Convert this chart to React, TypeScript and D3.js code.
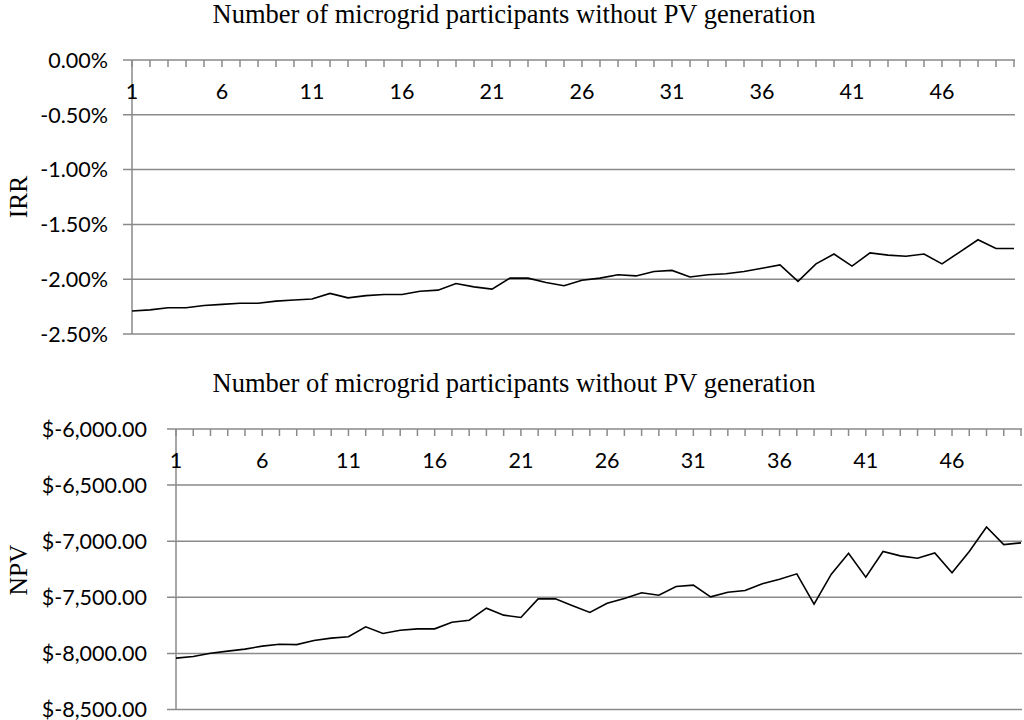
import React from 'react';
import * as d3 from 'd3';

// participants without PV: 1..50
const participants: number[] = d3.range(1, 51);

// IRR in percent
const irrValues: number[] = [
  -2.29, -2.28, -2.26, -2.26, -2.24, -2.23, -2.22, -2.22, -2.2, -2.19,
  -2.18, -2.13, -2.17, -2.15, -2.14, -2.14, -2.11, -2.1, -2.04, -2.07,
  -2.09, -1.99, -1.99, -2.03, -2.06, -2.01, -1.99, -1.96, -1.97, -1.93,
  -1.92, -1.98, -1.96, -1.95, -1.93, -1.9, -1.87, -2.02, -1.86, -1.77,
  -1.88, -1.76, -1.78, -1.79, -1.77, -1.86, -1.75, -1.64, -1.72, -1.72,
];

// NPV in dollars
const npvValues: number[] = [
  -8042, -8028, -7998, -7980, -7962, -7935, -7918, -7922, -7885, -7864,
  -7852, -7763, -7823, -7793, -7781, -7781, -7722, -7704, -7597, -7659,
  -7680, -7514, -7514, -7576, -7635, -7553, -7511, -7460, -7481, -7404,
  -7392, -7496, -7455, -7440, -7380, -7339, -7291, -7562, -7294, -7107,
  -7321, -7092, -7131, -7152, -7105, -7282, -7092, -6873, -7030, -7015,
];

const irrTicks: number[] = [0, -0.5, -1, -1.5, -2, -2.5];
const npvTicks: number[] = [-6000, -6500, -7000, -7500, -8000, -8500];
const labelledParticipants: number[] = [1, 6, 11, 16, 21, 26, 31, 36, 41, 46];

const chartTitle = 'Number of microgrid participants without PV generation';

const GRID = '#8a8a8a';
const SERIF = '"Liberation Serif", "Times New Roman", serif';
const SANS = 'Lato, "Open Sans", sans-serif';

type PanelProps = {
  values: number[];
  ticks: number[];
  domain: [number, number];
  left: number;
  right: number;
  top: number;
  bottom: number;
  titleY: number;
  yTitle: string;
  yTitleY: number;
  fmt: (v: number) => string;
  labelRight: number;
};

const Panel = (p: PanelProps) => {
  const x = d3.scaleLinear().domain([1, 50]).range([p.left, p.right]);
  const y = d3.scaleLinear().domain(p.domain).range([p.top, p.bottom]);
  const line = d3
    .line<number>()
    .x((_, i) => x(participants[i]))
    .y(d => y(d));

  return (
    <g>
      <text x={514} y={p.titleY} textAnchor="middle" fontFamily={SERIF} fontSize={26.5}>
        {chartTitle}
      </text>
      <text
        transform={`translate(27,${p.yTitleY}) rotate(-90)`}
        textAnchor="middle"
        fontFamily={SERIF}
        fontSize={25.5}
      >
        {p.yTitle}
      </text>
      {/* horizontal gridlines + y labels */}
      {p.ticks.map(t => (
        <g key={t}>
          <line x1={p.left - 9} x2={p.right + 1} y1={y(t)} y2={y(t)} stroke={GRID} strokeWidth={1.5} />
          <text
            x={p.labelRight}
            y={y(t)}
            dy="0.36em"
            textAnchor="end"
            fontFamily={SANS}
            fontSize={21.5}
          >
            {p.fmt(t)}
          </text>
        </g>
      ))}
      {/* y axis */}
      <line x1={p.left} x2={p.left} y1={p.top} y2={p.bottom} stroke={GRID} strokeWidth={1.5} />
      {/* category ticks along the top axis */}
      {participants.map(c => (
        <line key={c} x1={x(c)} x2={x(c)} y1={p.top} y2={p.top + 7} stroke={GRID} strokeWidth={1.5} />
      ))}
      {labelledParticipants.map(c => (
        <text key={c} x={x(c)} y={p.top + 39} textAnchor="middle" fontFamily={SANS} fontSize={21.5}>
          {c}
        </text>
      ))}
      <path d={line(p.values) ?? ''} fill="none" stroke="#000" strokeWidth={1.6} />
    </g>
  );
};

const money = (v: number) => '$' + d3.format(',.2f')(v).replace('−', '-');
const pct = (v: number) => d3.format('.2f')(v).replace('−', '-') + '%';

export default function App() {
  return (
    <svg
      width={1024}
      height={720}
      style={{ position: 'absolute', left: 0, top: 0, background: '#fff' }}
    >
      <Panel
        values={irrValues}
        ticks={irrTicks}
        domain={[0, -2.5]}
        left={132}
        right={1014}
        top={60}
        bottom={334}
        titleY={23}
        yTitle="IRR"
        yTitleY={197}
        fmt={pct}
        labelRight={108}
      />
      <Panel
        values={npvValues}
        ticks={npvTicks}
        domain={[-6000, -8500]}
        left={176}
        right={1021}
        top={429}
        bottom={709.5}
        titleY={392}
        yTitle="NPV"
        yTitleY={570}
        fmt={money}
        labelRight={147}
      />
    </svg>
  );
}
